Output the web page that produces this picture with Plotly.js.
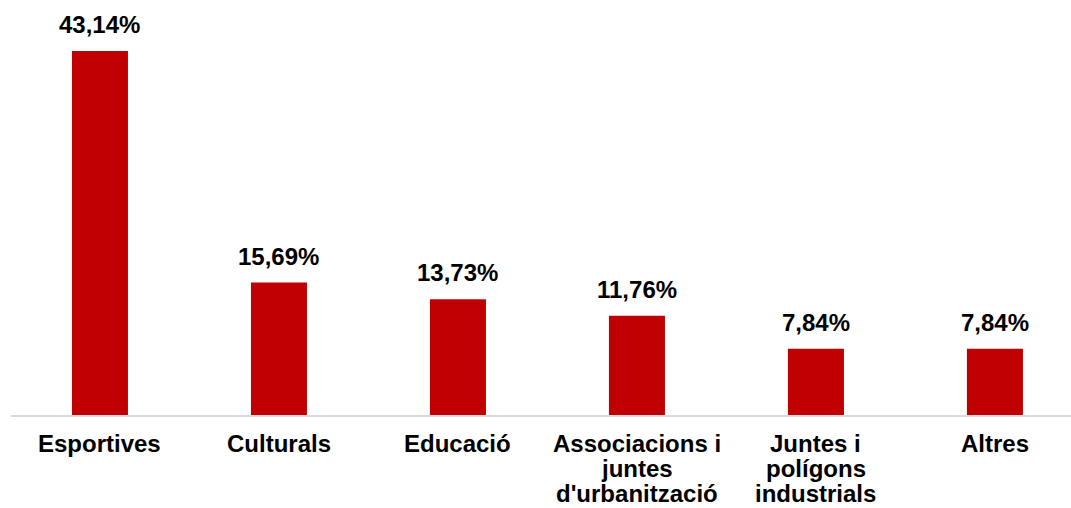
<!DOCTYPE html>
<html>
<head>
<meta charset="utf-8">
<script src="https://cdn.plot.ly/plotly-3.0.1.min.js"></script>
<style>html,body{margin:0;padding:0;background:#fff;}#chart{width:1071px;height:508px;}</style>
</head>
<body>
<div id="chart"></div>
<script>
// Data
const categories = ["Esportives", "Culturals", "Educació", "Associacions i juntes d'urbanització", "Juntes i polígons industrials", "Altres"];
const categoryLines = [
  ["Esportives"],
  ["Culturals"],
  ["Educació"],
  ["Associacions i", "juntes", "d'urbanització"],
  ["Juntes i", "polígons", "industrials"],
  ["Altres"]
];
const values = [43.14, 15.69, 13.73, 11.76, 7.84, 7.84];

const FONT = "'Liberation Sans', Arial, sans-serif";
const xIdx = categories.map((c, i) => i);

const annotations = [];
values.forEach((v, i) => {
  annotations.push({
    x: i, y: v, xref: 'x', yref: 'y',
    text: '<b>' + v.toFixed(2).replace('.', ',') + '%</b>',
    showarrow: false, xanchor: 'center', yanchor: 'bottom', yshift: 11,
    font: {family: FONT, size: 24, color: '#000'}
  });
});
categoryLines.forEach((lines, i) => {
  lines.forEach((ln, j) => {
    annotations.push({
      x: i, y: 0, xref: 'x', yref: 'paper',
      text: '<b>' + ln + '</b>',
      showarrow: false, xanchor: 'center', yanchor: 'top', yshift: -13 - 25 * j,
      font: {family: FONT, size: 24, color: '#000'}
    });
  });
});

const trace = {
  type: 'bar',
  x: xIdx,
  y: values,
  width: 0.313,
  marker: {color: '#c00000'},
  hoverinfo: 'skip'
};

const layout = {
  width: 1071, height: 508,
  margin: {l: 11, r: 0, t: 0, b: 93, pad: 0},
  paper_bgcolor: '#fff', plot_bgcolor: '#fff',
  showlegend: false,
  xaxis: {
    range: [-0.497, 5.425], showticklabels: false, ticks: '',
    showgrid: false, zeroline: false,
    showline: true, linecolor: '#d9d9d9', linewidth: 1.5, fixedrange: true
  },
  yaxis: {
    range: [0, 49.18], visible: false, showgrid: false, zeroline: false, fixedrange: true
  },
  annotations: annotations
};

Plotly.newPlot('chart', [trace], layout, {staticPlot: true, displayModeBar: false});
</script>
</body>
</html>
